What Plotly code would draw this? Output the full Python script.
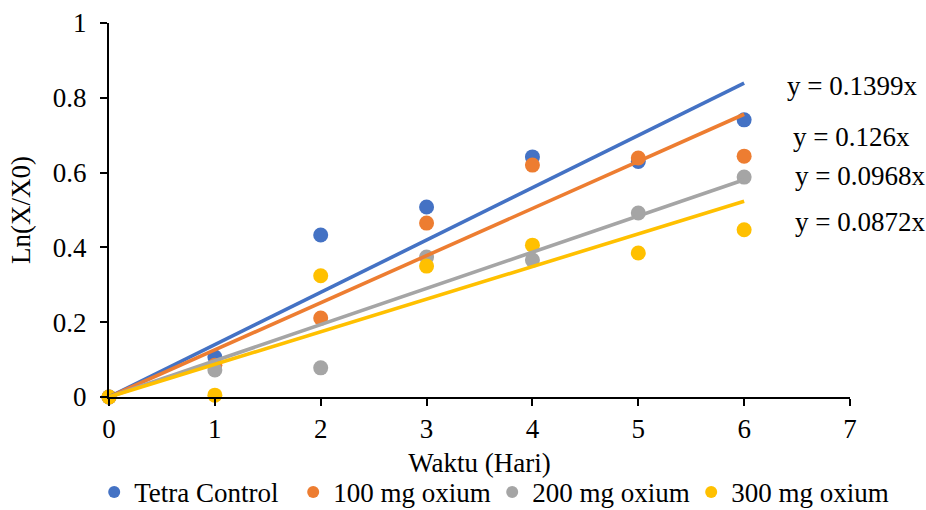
import plotly.graph_objects as go

days = [0, 1, 2, 3, 4, 5, 6]
series_names = ["Tetra Control", "100 mg oxium", "200 mg oxium", "300 mg oxium"]
tetra = [0, 0.107, 0.433, 0.508, 0.642, 0.630, 0.741]
mg100 = [0, 0.085, 0.211, 0.465, 0.620, 0.639, 0.644]
mg200 = [0, 0.072, 0.078, 0.374, 0.366, 0.492, 0.588]
mg300 = [0, 0.005, 0.324, 0.350, 0.406, 0.385, 0.447]
slopes = [0.1399, 0.126, 0.0968, 0.0872]
eq_labels = ["y = 0.1399x", "y = 0.126x", "y = 0.0968x", "y = 0.0872x"]
colors = ["#4472C4", "#ED7D31", "#A5A5A5", "#FFC000"]

FONT = "Liberation Serif, Times New Roman, serif"
FS = 27
fig = go.Figure()
for name, vals, c in zip(series_names, [tetra, mg100, mg200, mg300], colors):
    fig.add_trace(go.Scatter(x=days, y=vals, mode="markers", name=name,
                             marker=dict(color=c, size=15, line=dict(width=0)),
                             cliponaxis=False))
for s, c in zip(slopes, colors):
    xs = [days[0], days[-1]]
    fig.add_trace(go.Scatter(x=xs, y=[s * v for v in xs], mode="lines",
                             line=dict(color=c, width=3.6), showlegend=False,
                             hoverinfo="skip"))

ann_pos = [(0.912, 0.832), (0.92, 0.695), (0.923, 0.591), (0.923, 0.468)]
for txt, (ax, ay) in zip(eq_labels, ann_pos):
    fig.add_annotation(text=txt, xref="paper", yref="paper", x=ax, y=ay,
                       xanchor="left", yanchor="middle", showarrow=False,
                       font=dict(family=FONT, size=FS, color="black"))

fig.update_layout(
    width=926, height=510,
    margin=dict(l=109, r=76, t=23, b=113, autoexpand=False),
    paper_bgcolor="white", plot_bgcolor="white",
    font=dict(family=FONT, size=FS, color="black"),
    showlegend=True,
    legend=dict(orientation="h", x=-0.02, y=-0.255, xanchor="left", yanchor="middle",
                entrywidth=154, entrywidthmode="pixels",
                font=dict(family=FONT, size=FS, color="black"),
                bgcolor="rgba(0,0,0,0)", itemsizing="constant"),
)
fig.update_xaxes(range=[0, 7], dtick=1, tick0=0, showgrid=False, zeroline=False,
                 showline=True, linecolor="black", linewidth=2,
                 ticks="outside", ticklen=7, tickwidth=1.5, tickcolor="black",
                 ticklabelstandoff=0, automargin=False,
                 title=dict(text="Waktu (Hari)", standoff=10,
                            font=dict(family=FONT, size=FS)),
                 tickfont=dict(family=FONT, size=FS))
fig.update_yaxes(range=[0, 1], dtick=0.2, tick0=0, showgrid=False, zeroline=False,
                 showline=True, linecolor="black", linewidth=2,
                 ticks="outside", ticklen=7, tickwidth=1.5, tickcolor="black",
                 ticklabelstandoff=8, automargin=False,
                 title=dict(text="Ln(X/X0)", standoff=14,
                            font=dict(family=FONT, size=FS)),
                 tickfont=dict(family=FONT, size=FS))

fig.write_html("out.html")
